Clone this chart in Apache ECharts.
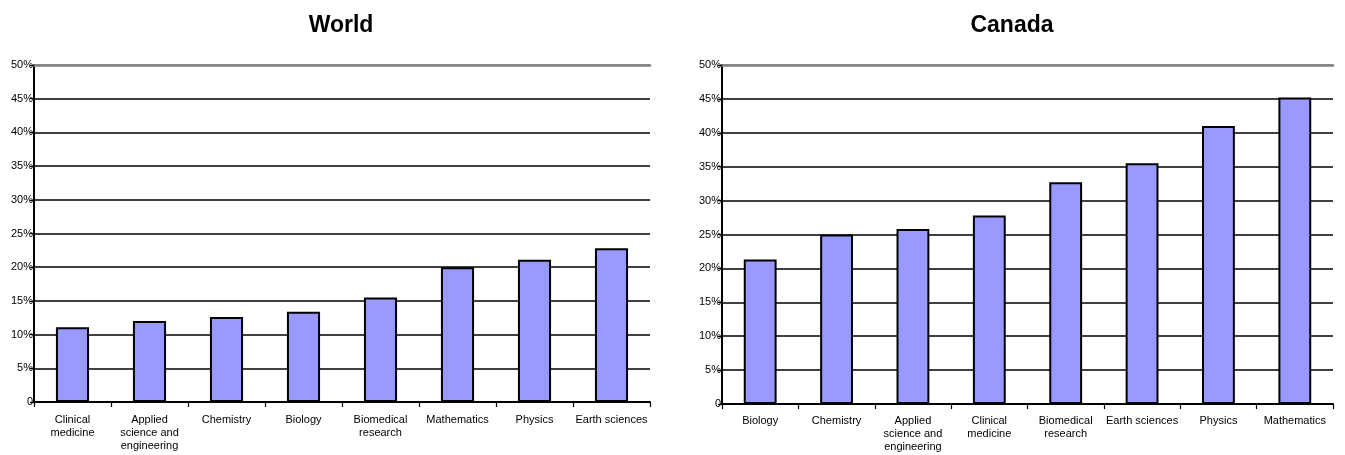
<!DOCTYPE html>
<html>
<head>
<meta charset="utf-8">
<script src="https://cdn.jsdelivr.net/npm/echarts@6/dist/echarts.min.js"></script>
<style>
html,body{margin:0;padding:0;background:#fff;}
#c{width:1345px;height:455px;}
</style>
</head>
<body>
<div id="c"></div>
<script>
const worldCategories = ['Clinical\nmedicine', 'Applied\nscience and\nengineering', 'Chemistry', 'Biology', 'Biomedical\nresearch', 'Mathematics', 'Physics', 'Earth sciences'];
const worldValues = [11.1, 12.0, 12.6, 13.4, 15.5, 20.0, 21.1, 22.8];
const canadaCategories = ['Biology', 'Chemistry', 'Applied\nscience and\nengineering', 'Clinical\nmedicine', 'Biomedical\nresearch', 'Earth sciences', 'Physics', 'Mathematics'];
const canadaValues = [21.3, 25.0, 25.8, 27.8, 32.7, 35.5, 41.0, 45.2];
const titles = ['World', 'Canada'];
const yTicks = { min: 0, max: 50, interval: 5 };

const FONT = 'Liberation Sans, Arial, sans-serif';
const gridColors = ['#000','#000','#000','#000','#000','#000','#000','#000','#000','#000','#808080'];

function bottomAxis(idx, cats, margin) {
  return {
    type: 'category', gridIndex: idx, data: cats, position: 'bottom',
    axisLine: { show: true, onZero: false, lineStyle: { color: '#000', width: 2 } },
    axisTick: { show: true, inside: false, length: 5, alignWithLabel: false, interval: 0, lineStyle: { color: '#000', width: 1.2 } },
    axisLabel: { interval: 0, margin: margin, color: '#000', fontFamily: FONT, fontSize: 11, lineHeight: 13, verticalAlign: 'top' },
    splitLine: { show: false }
  };
}
function topAxis(idx, cats) {
  return {
    type: 'category', gridIndex: idx, data: cats, position: 'top',
    axisLine: { show: true, onZero: false, lineStyle: { color: '#808080', width: 2.5 } },
    axisTick: { show: false }, axisLabel: { show: false }, splitLine: { show: false }
  };
}
function yAxis(idx) {
  return {
    type: 'value', gridIndex: idx, min: yTicks.min, max: yTicks.max, interval: yTicks.interval,
    axisLine: { show: true, lineStyle: { color: '#000', width: 2 } },
    axisTick: { show: true, inside: false, length: 4, lineStyle: { color: '#000', width: 1.2 } },
    axisLabel: { margin: 1, color: '#000', fontFamily: FONT, fontSize: 11,
      formatter: v => v === 0 ? '0' : v + '%' },
    splitLine: { show: true, lineStyle: { color: gridColors, width: 1.7 } }
  };
}
function barSeries(xi, yi, vals) {
  return {
    type: 'bar', xAxisIndex: xi, yAxisIndex: yi, data: vals, barWidth: '43%',
    itemStyle: { color: '#9999FF', borderColor: '#000', borderWidth: 2 },
    silent: true, animation: false
  };
}

const chart = echarts.init(document.getElementById('c'), null, { renderer: 'canvas' });
chart.setOption({
  animation: false,
  backgroundColor: '#fff',
  title: [
    { text: titles[0], left: 336, top: 9, textAlign: 'center',
      textStyle: { fontFamily: FONT, fontSize: 23, fontWeight: 'bold', color: '#000' } },
    { text: titles[1], left: 1007, top: 9, textAlign: 'center',
      textStyle: { fontFamily: FONT, fontSize: 23, fontWeight: 'bold', color: '#000' } }
  ],
  grid: [
    { left: 34, right: 695, top: 65, bottom: 53, containLabel: false },
    { left: 722, right: 12, top: 65, bottom: 51, containLabel: false }
  ],
  xAxis: [
    bottomAxis(0, worldCategories, 11),
    topAxis(0, worldCategories),
    bottomAxis(1, canadaCategories, 10),
    topAxis(1, canadaCategories)
  ],
  yAxis: [yAxis(0), yAxis(1)],
  series: [
    barSeries(0, 0, worldValues),
    barSeries(2, 1, canadaValues)
  ]
});
</script>
</body>
</html>
